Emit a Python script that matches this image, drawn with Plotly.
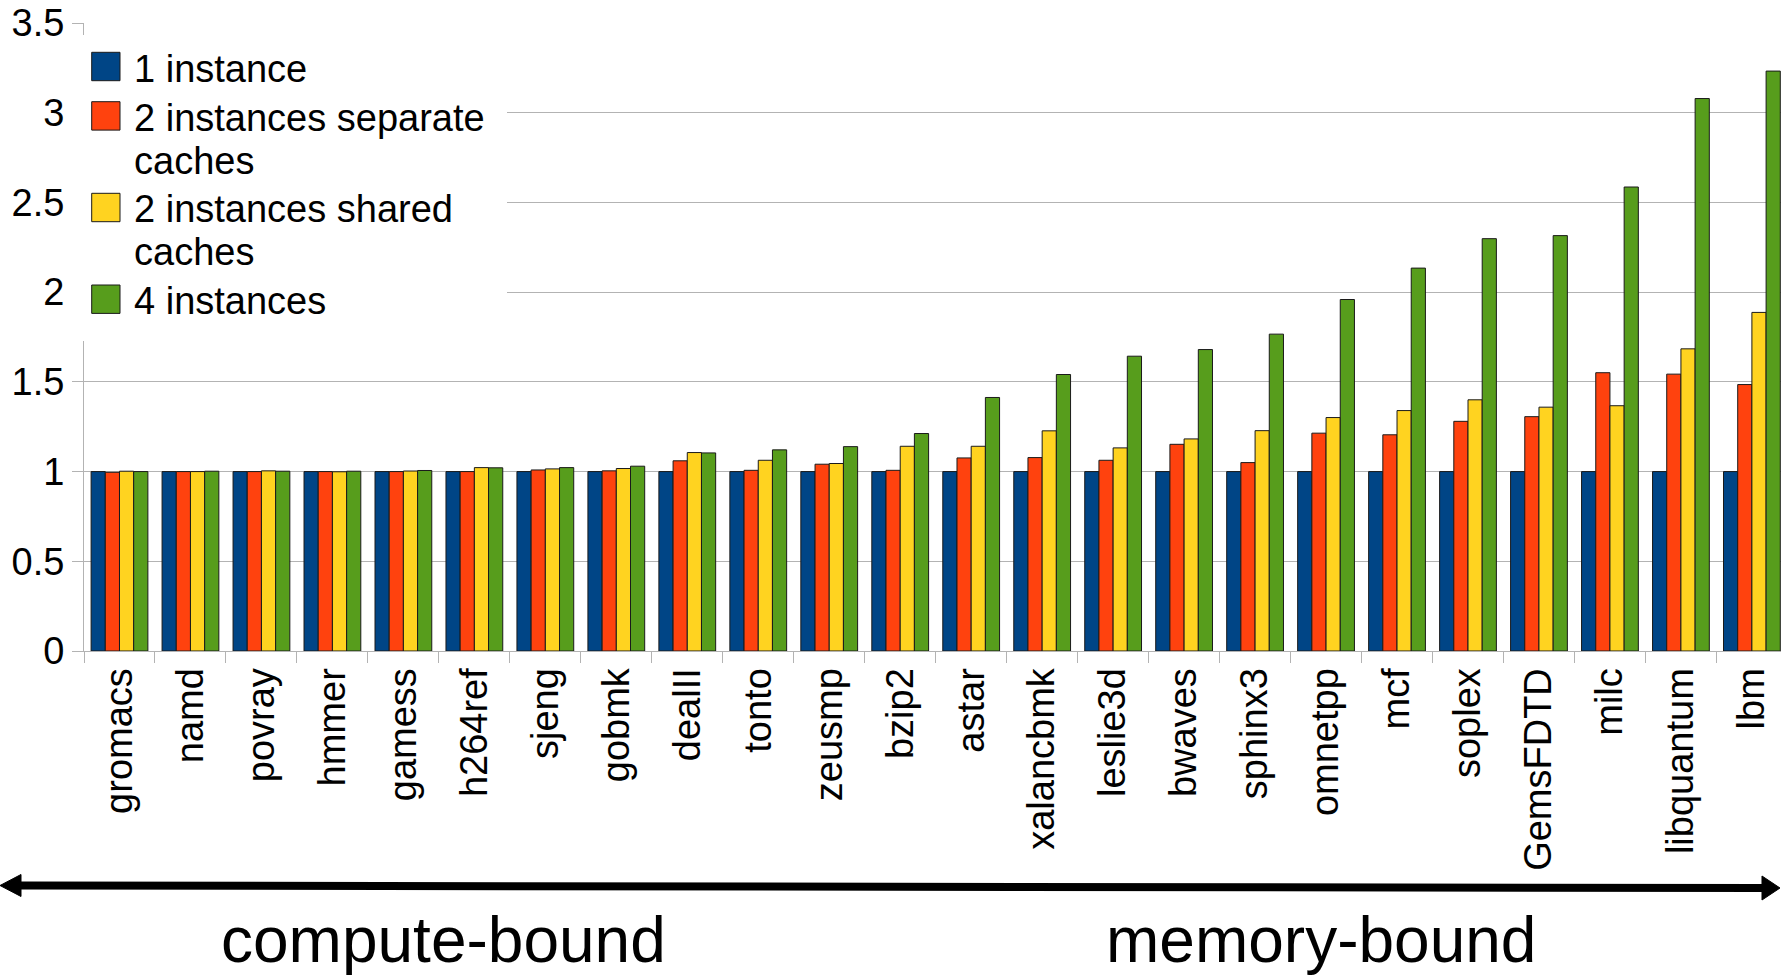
import plotly.graph_objects as go

categories = ["gromacs", "namd", "povray", "hmmer", "gamess", "h264ref", "sjeng", "gobmk",
              "dealII", "tonto", "zeusmp", "bzip2", "astar", "xalancbmk", "leslie3d", "bwaves",
              "sphinx3", "omnetpp", "mcf", "soplex", "GemsFDTD", "milc", "libquantum", "lbm"]

one_instance = [1.0] * 24
two_separate = [0.996, 1.0, 1.0, 1.0, 1.0, 1.0, 1.009, 1.004,
                1.060, 1.007, 1.041, 1.007, 1.076, 1.078, 1.063, 1.152,
                1.050, 1.214, 1.205, 1.280, 1.306, 1.551, 1.543, 1.485]
two_shared = [1.002, 1.0, 1.004, 0.999, 1.003, 1.022, 1.015, 1.017,
              1.106, 1.063, 1.045, 1.141, 1.141, 1.227, 1.132, 1.182,
              1.228, 1.301, 1.340, 1.400, 1.359, 1.367, 1.684, 1.887]
four_instances = [1.0, 1.002, 1.002, 1.002, 1.006, 1.021, 1.022, 1.030,
                  1.104, 1.121, 1.139, 1.212, 1.413, 1.541, 1.643, 1.680,
                  1.766, 1.959, 2.134, 2.298, 2.315, 2.586, 3.079, 3.232]

series_names = ["1 instance", "2 instances separate caches", "2 instances shared caches", "4 instances"]
series_colors = ["#004586", "#ff420e", "#ffd320", "#579d1c"]
legend_lines = [["1 instance"], ["2 instances separate", "caches"], ["2 instances shared", "caches"], ["4 instances"]]

y_ticks = [0, 0.5, 1, 1.5, 2, 2.5, 3, 3.5]
y_ticktext = ["0", "0.5", "1", "1.5", "2", "2.5", "3", "3.5"]

FONT = "Liberation Sans, Arial, sans-serif"
FS = 38
W, H = 1781, 977
ML, MR, MT, MB = 84, 0, 23, 326
PW = W - ML - MR
PH = H - MT - MB


def px(xp):
    return (xp - ML) / PW


def py(yp):
    return (H - MB - yp) / PH


fig = go.Figure()
for name, vals, col in zip(series_names, [one_instance, two_separate, two_shared, four_instances], series_colors):
    fig.add_trace(go.Bar(x=categories, y=vals, name=name, marker=dict(color=col, line=dict(color="#1a1a1a", width=1)),
                         showlegend=False))

shapes = []
annotations = []
# white legend background box
shapes.append(dict(type="rect", xref="paper", yref="paper", x0=px(70), x1=px(507), y0=py(341), y1=py(35),
                   fillcolor="white", line=dict(width=0), layer="above"))
# legend squares and text
sq_tops = [52.3, 101.7, 193.3, 285.0]
line_centers = [[68.7], [117.7, 161.0], [208.7, 252.0], [301.0]]
for top, col, lines, centers in zip(sq_tops, series_colors, legend_lines, line_centers):
    shapes.append(dict(type="rect", xref="paper", yref="paper", x0=px(91.7), x1=px(120), y0=py(top + 28.4), y1=py(top),
                       fillcolor=col, line=dict(color="#1a1a1a", width=1), layer="above"))
    for txt, cy in zip(lines, centers):
        annotations.append(dict(text=txt, xref="paper", yref="paper", x=px(132), y=py(cy), xanchor="left",
                                yanchor="middle", showarrow=False, font=dict(family=FONT, size=FS, color="black")))

# double-headed arrow
ay_l, ay_r = 885.5, 888.0
shapes.append(dict(type="line", xref="paper", yref="paper", x0=px(18), x1=px(1764), y0=py(ay_l), y1=py(ay_r),
                   line=dict(color="black", width=8)))
shapes.append(dict(type="path", xref="paper", yref="paper",
                   path="M {:.5f} {:.5f} L {:.5f} {:.5f} L {:.5f} {:.5f} Z".format(
                       px(0), py(ay_l), px(21), py(ay_l - 11), px(21), py(ay_l + 11)),
                   fillcolor="black", line=dict(color="black", width=1)))
shapes.append(dict(type="path", xref="paper", yref="paper",
                   path="M {:.5f} {:.5f} L {:.5f} {:.5f} L {:.5f} {:.5f} Z".format(
                       px(1780), py(ay_r), px(1762), py(ay_r - 12), px(1762), py(ay_r + 12)),
                   fillcolor="black", line=dict(color="black", width=1)))

annotations.append(dict(text="compute-bound", xref="paper", yref="paper", x=px(443), y=py(940), xanchor="center",
                        yanchor="middle", showarrow=False, font=dict(family=FONT, size=64, color="black")))
annotations.append(dict(text="memory-bound", xref="paper", yref="paper", x=px(1321), y=py(940), xanchor="center",
                        yanchor="middle", showarrow=False, font=dict(family=FONT, size=64, color="black")))

fig.update_layout(
    width=W, height=H,
    margin=dict(l=ML, r=MR, t=MT, b=MB, autoexpand=False),
    paper_bgcolor="white", plot_bgcolor="white",
    barmode="group", bargap=0.2, bargroupgap=0,
    showlegend=False,
    font=dict(family=FONT, size=FS, color="black"),
    shapes=shapes, annotations=annotations,
    xaxis=dict(type="category", range=[-0.5, 23.41], tickangle=-90, ticks="outside", ticklen=11,
               tickcolor="#b3b3b3", tickson="boundaries", showline=True, linecolor="#b3b3b3", linewidth=1,
               showgrid=False, automargin=False, ticklabelstandoff=1,
               tickfont=dict(family=FONT, size=FS, color="black")),
    yaxis=dict(range=[0, 3.5], tickvals=y_ticks, ticktext=y_ticktext, ticks="outside", ticklen=11,
               tickcolor="#b3b3b3", showline=True, linecolor="#b3b3b3", linewidth=1, showgrid=True,
               gridcolor="#b3b3b3", gridwidth=1, zeroline=False, ticklabelstandoff=0, automargin=False,
               tickfont=dict(family=FONT, size=FS, color="black")),
)

fig.write_html("out.html", config={"displayModeBar": False},
               post_script="document.body.style.margin='0';document.body.style.overflow='hidden';")
